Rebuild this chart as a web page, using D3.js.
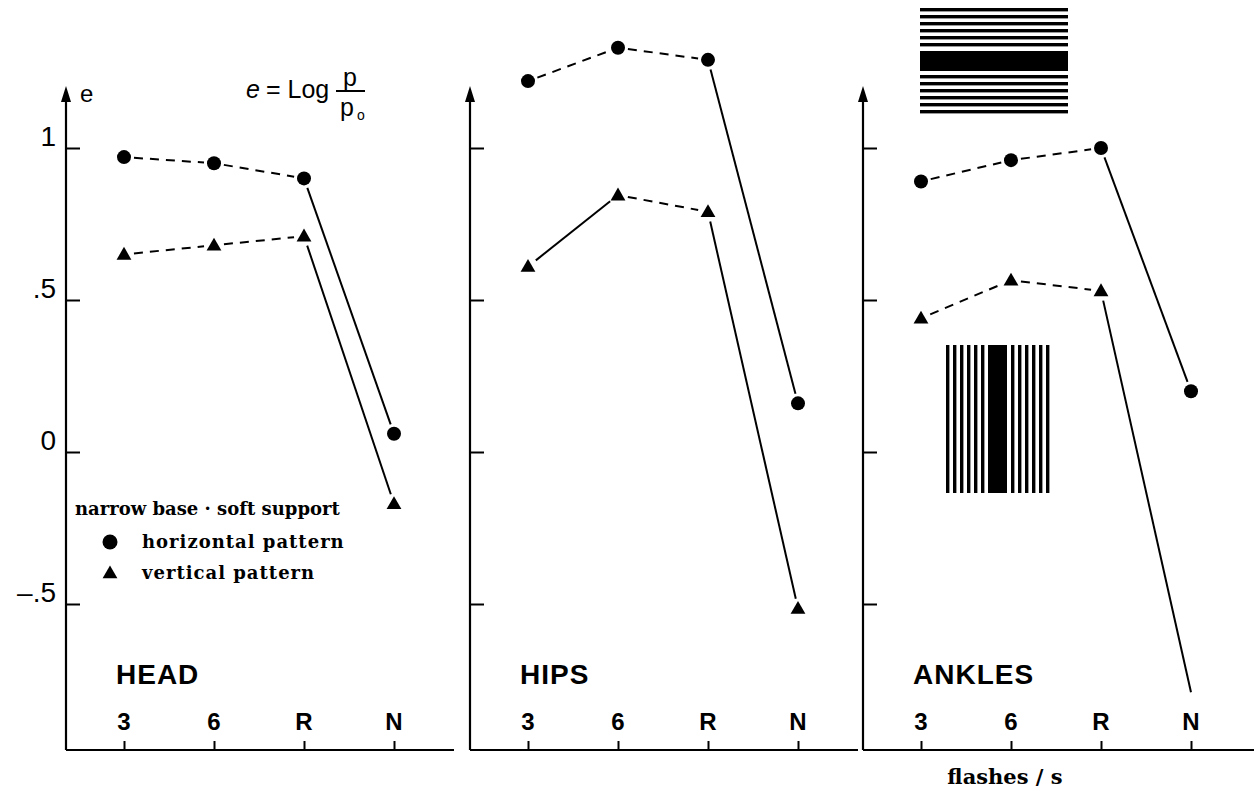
<!DOCTYPE html>
<html>
<head>
<meta charset="utf-8">
<script src="https://cdn.jsdelivr.net/npm/d3@7"></script>
<style>
  body { margin: 0; background: #fff; }
  svg { display: block; }
</style>
</head>
<body>
<svg id="chart"></svg>
<script>
// data
const categories = ["3", "6", "R", "N"];
const panelNames = ["HEAD", "HIPS", "ANKLES"];
const horizontalValues = [
  [0.97, 0.95, 0.90, 0.06],
  [1.22, 1.33, 1.29, 0.16],
  [0.89, 0.96, 1.00, 0.20],
];
const verticalValues = [
  [0.65, 0.68, 0.71, -0.17],
  [0.61, 0.845, 0.79, -0.515],
  [0.44, 0.565, 0.53, -0.79],
];
// line style of each segment 3-6, 6-R, R-N
const horizontalSegments = [
  ["dash", "dash", "solid"],
  ["dash", "dash", "solid"],
  ["dash", "dash", "solid"],
];
const verticalSegments = [
  ["dash", "dash", "solid"],
  ["solid", "dash", "solid"],
  ["dash", "dash", "solid"],
];
// last ankle point is off the scale, so no marker
const verticalMarkerShown = [
  [true, true, true, true],
  [true, true, true, true],
  [true, true, true, false],
];
const yTicks = [1, 0.5, 0, -0.5];
const yTickLabels = ["1", ".5", "0", "\u2013.5"];
const legendTitle = "narrow base \u00b7 soft support";
const legendItems = ["horizontal pattern", "vertical pattern"];
const xTitle = "flashes / s";

const width = 1254;
const height = 791;
const svg = d3.select("#chart").attr("width", width).attr("height", height);

const axisX = [66, 470, 863];
const baseY = 750;
const topY = 86;
const sans = "'Liberation Sans', Arial, sans-serif";
const serif = "'DejaVu Serif', 'Liberation Serif', serif";

const y = d3.scaleLinear().domain([0, 1]).range([452, 148]);

const triangle = d3.symbol().type(d3.symbolTriangle).size(95);

function drawSeries(g, x, values, segs, shown, marker) {
  const pts = values.map((v, i) => [x(categories[i]), y(v)]);
  const gap = 10;
  segs.forEach((s, i) => {
    const [x0, y0] = pts[i];
    const [x1, y1] = pts[i + 1];
    const len = Math.hypot(x1 - x0, y1 - y0);
    const ux = (x1 - x0) / len, uy = (y1 - y0) / len;
    const endGap = shown[i + 1] ? gap : 0;
    g.append("line")
      .attr("x1", x0 + ux * gap).attr("y1", y0 + uy * gap)
      .attr("x2", x1 - ux * endGap).attr("y2", y1 - uy * endGap)
      .attr("stroke", "#000")
      .attr("stroke-width", 2)
      .attr("stroke-dasharray", s === "dash" ? "9,7" : null);
  });
  const m = g.append("g");
  pts.forEach((p, i) => {
    if (!shown[i]) return;
    if (marker === "circle") {
      m.append("circle").attr("cx", p[0]).attr("cy", p[1]).attr("r", 7).attr("fill", "#000");
    } else {
      m.append("path").attr("d", triangle)
        .attr("transform", `translate(${p[0]},${p[1] + 1})`).attr("fill", "#000");
    }
  });
}

panelNames.forEach((name, k) => {
  const ax = axisX[k];
  const g = svg.append("g");
  const x = d3.scalePoint().domain(categories).range([ax + 58, ax + 328]);

  // bottom axis with upward ticks
  const xAxis = g.append("g").attr("transform", `translate(0,${baseY})`)
    .call(d3.axisTop(x).tickSize(9).tickSizeOuter(0).tickFormat(""));
  xAxis.select(".domain").remove();
  xAxis.selectAll("line").attr("stroke-width", 2);
  g.append("line")
    .attr("x1", ax).attr("x2", k === 2 ? width : ax + 388)
    .attr("y1", baseY).attr("y2", baseY)
    .attr("stroke", "#000").attr("stroke-width", 2);

  // y axis with inward ticks and arrow
  const yAxis = g.append("g").attr("transform", `translate(${ax},0)`)
    .call(d3.axisRight(y).tickValues(yTicks).tickSize(14).tickFormat(""));
  yAxis.select(".domain").remove();
  yAxis.selectAll("line").attr("stroke-width", 2);
  g.append("line")
    .attr("x1", ax).attr("x2", ax).attr("y1", baseY).attr("y2", topY + 8)
    .attr("stroke", "#000").attr("stroke-width", 2.2);
  g.append("path")
    .attr("d", `M${ax},${topY} L${ax - 5},${topY + 16} L${ax + 5},${topY + 16} Z`)
    .attr("fill", "#000");

  // category labels
  g.selectAll(".xl").data(categories).enter().append("text")
    .attr("x", d => x(d)).attr("y", 730)
    .attr("text-anchor", "middle")
    .style("font-family", sans).style("font-weight", "bold").style("font-size", "24px")
    .text(d => d);

  g.append("text")
    .attr("x", ax + 50).attr("y", 684)
    .style("font-family", sans).style("font-weight", "bold").style("font-size", "28px")
    .style("letter-spacing", "1px")
    .text(name);

  drawSeries(g, x, horizontalValues[k], horizontalSegments[k], [true, true, true, true], "circle");
  drawSeries(g, x, verticalValues[k], verticalSegments[k], verticalMarkerShown[k], "triangle");
});

// y tick labels on first panel only
svg.append("g").selectAll("text").data(yTicks).enter().append("text")
  .attr("x", 56).attr("y", d => y(d) - 2)
  .attr("text-anchor", "end")
  .style("font-family", sans).style("font-size", "28px")
  .text((d, i) => yTickLabels[i]);

svg.append("text").attr("x", 80).attr("y", 102)
  .style("font-family", sans).style("font-size", "24px").text("e");

// formula e = Log p / p0
const f = svg.append("g").style("font-family", sans).style("font-size", "25px");
f.append("text").attr("x", 246).attr("y", 98).style("font-style", "italic").text("e");
f.append("text").attr("x", 266).attr("y", 98).text("= Log");
f.append("text").attr("x", 350).attr("y", 86).attr("text-anchor", "middle").text("p");
f.append("line").attr("x1", 336).attr("x2", 365).attr("y1", 91).attr("y2", 91)
  .attr("stroke", "#000").attr("stroke-width", 2);
f.append("text").attr("x", 347).attr("y", 116).attr("text-anchor", "middle").text("p");
f.append("text").attr("x", 357).attr("y", 120).style("font-size", "14px").text("o");

// legend
const lg = svg.append("g").style("font-family", serif).style("font-weight", "bold");
lg.append("text").attr("x", 75).attr("y", 515).style("font-size", "18px").text(legendTitle);
lg.selectAll(".li").data(legendItems).enter().append("text")
  .attr("x", 142).attr("y", (d, i) => 548 + i * 31)
  .style("font-size", "18px").style("letter-spacing", "1px").text(d => d);
lg.append("circle").attr("cx", 110).attr("cy", 542).attr("r", 7.5).attr("fill", "#000");
lg.append("path").attr("d", triangle).attr("transform", "translate(110,574)").attr("fill", "#000");

svg.append("text").attr("x", 1005).attr("y", 784).attr("text-anchor", "middle")
  .style("font-family", serif).style("font-weight", "bold").style("font-size", "21px")
  .text(xTitle);

// stimulus patterns drawn in the ankle panel
const stripes = d3.range(6);
const hp = svg.append("g");
stripes.forEach(i => {
  hp.append("rect").attr("x", 920).attr("width", 148).attr("y", 8 + i * 7).attr("height", 3.4).attr("fill", "#000");
  hp.append("rect").attr("x", 920).attr("width", 148).attr("y", 75 + i * 7).attr("height", 3.4).attr("fill", "#000");
});
hp.append("rect").attr("x", 920).attr("width", 148).attr("y", 51).attr("height", 20).attr("fill", "#000");

const vp = svg.append("g");
stripes.forEach(i => {
  vp.append("rect").attr("y", 345).attr("height", 148).attr("x", 946 + i * 7).attr("width", 3.4).attr("fill", "#000");
  vp.append("rect").attr("y", 345).attr("height", 148).attr("x", 1011 + i * 7).attr("width", 3.4).attr("fill", "#000");
});
vp.append("rect").attr("y", 345).attr("height", 148).attr("x", 988).attr("width", 19).attr("fill", "#000");
</script>
</body>
</html>
